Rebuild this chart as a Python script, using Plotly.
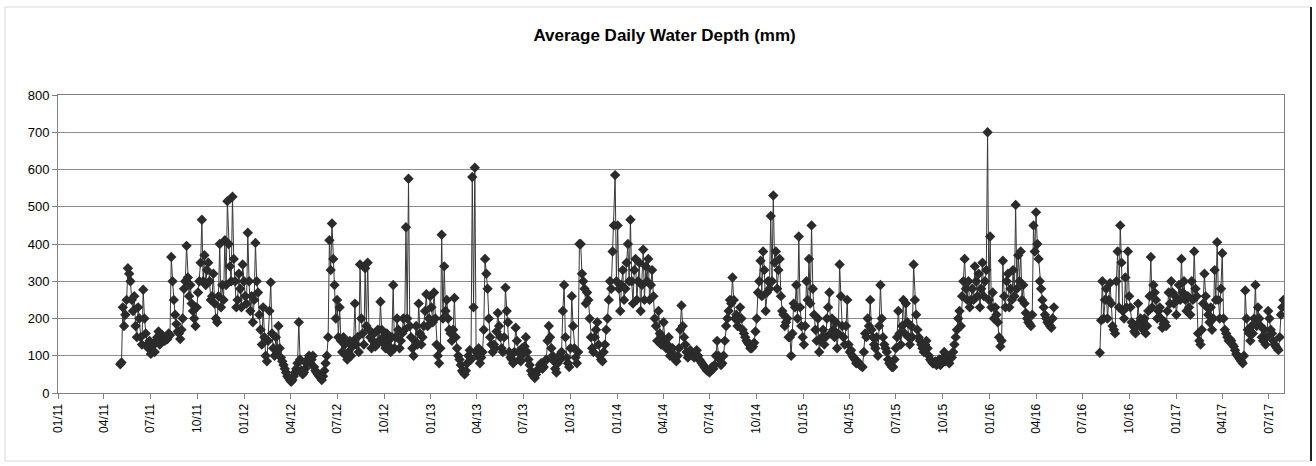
import pandas as pd
import plotly.graph_objects as go

title_text = "Average Daily Water Depth (mm)"

# readings every 5 days (main) plus readings halfway between them (mid)
start_a = "2011-05-03"
start_b = "2016-08-04"
step_days = 5

depth_2011 = [77, 230, 210, 335, 300, 220, 180, 230, 150, 277,
              160, 120, 105, 130, 140, 165, 140, 145, 150, 160,
              365, 250, 185, 160, 170, 280, 395, 260, 240, 200,
              230, 300, 465, 370, 330, 300, 260, 240, 190, 400,
              290, 410, 515, 340, 527, 300, 250, 280, 345, 260]
depth_2012 = [430, 220, 190, 403, 270, 170, 230, 100, 140, 297,
              120, 150, 180, 95, 75, 55, 40, 30, 45, 65,
              190, 60, 55, 80, 100, 90, 70, 55, 45, 35,
              60, 100, 410, 455, 290, 250, 230, 110, 130, 90,
              140, 125, 240, 150, 345, 160, 335, 350, 150, 140,
              125, 170, 245, 150, 120, 140, 110, 290, 150, 170,
              140, 200, 445, 575, 150, 100, 180, 240, 130, 180]
depth_2013 = [265, 200, 230, 270, 130, 80, 425, 340, 250, 170,
              140, 255, 120, 90, 60, 50, 80, 115, 580, 605,
              100, 80, 110, 360, 280, 150, 110, 120, 215, 150,
              110, 283, 190, 95, 80, 175, 110, 85, 105, 150,
              90, 60, 45, 50, 65, 80, 70, 90, 180, 120,
              85, 55, 100, 110, 290, 95, 70, 260, 120, 80,
              400, 320, 280, 270, 200, 120, 150, 190, 100, 85,
              130, 200, 300, 380, 585, 450, 220, 330, 280, 400]
depth_2014 = [465, 240, 360, 300, 220, 385, 340, 360, 290, 260,
              180, 220, 130, 190, 120, 150, 110, 95, 85, 120,
              235, 150, 110, 100, 105, 95, 115, 90, 80, 70,
              60, 55, 70, 75, 140, 90, 80, 140, 200, 250,
              310, 200, 180, 230, 170, 150, 135, 120, 125, 165,
              270, 355, 380, 220, 300, 475, 530, 380, 330, 260]
depth_2015 = [210, 190, 150, 100, 240, 290, 420, 180, 130, 300,
              360, 450, 210, 140, 110, 150, 130, 200, 270, 200,
              150, 120, 345, 180, 130, 250, 110, 100, 90, 85,
              75, 70, 160, 200, 250, 150, 120, 100, 290, 150,
              120, 90, 75, 70, 120, 220, 130, 250, 240, 150,
              180, 345, 210, 150, 130, 110, 140, 100, 85, 80,
              75, 90, 80, 110, 95, 80, 95, 130, 170, 220,
              260, 360, 250, 230, 280, 340, 260, 230, 350, 300]
depth_2016a = [700, 420, 270, 230, 190, 125, 355, 230, 320, 280,
               330, 505, 370, 380, 290, 215, 190, 180, 450, 485,
               360, 280, 230, 200, 185, 175, 230]

mid_2011_13 = [82, 180, 250, 320, 250, 260, 150, 200, 130, 200,
               130, 140, 125, 110, 150, 130, 155, 140, 145, 155,
               300, 210, 165, 145, 200, 300, 310, 290, 220, 180,
               270, 350, 300, 290, 350, 250, 320, 200, 260, 230,
               250, 290, 400, 300, 360, 230, 320, 230, 300, 240,
               300, 260, 250, 300, 210, 130, 150, 85, 220, 160,
               100, 110, 120, 85, 65, 45, 35, 35, 55, 80,
               90, 50, 65, 90, 80, 100, 60, 50, 40, 45,
               80, 150, 330, 360, 200, 150, 140, 150, 100, 110,
               100, 140, 130, 110, 200, 130, 180, 170, 120, 160,
               130, 140, 170, 130, 160, 125, 150, 120, 200, 120,
               160, 170, 200, 180, 120, 140, 130, 160, 150, 220,
               180, 260, 190, 200, 100, 120, 200, 220, 200, 160,
               170, 150, 100, 75, 55, 60, 100, 90, 230, 110,
               120, 95, 170, 320, 200, 130, 130, 165, 180, 120,
               150, 220, 110, 90, 110, 140, 90, 120, 125, 110,
               75, 50, 40, 60, 75, 65, 85, 140, 150, 100,
               65, 80, 90, 220, 150, 80, 120, 180, 95, 110]
mid_2013_16 = [400, 300, 240, 250, 150, 110, 170, 130, 90, 110,
               170, 250, 280, 450, 300, 280, 290, 250, 350, 300,
               300, 330, 250, 350, 290, 250, 300, 250, 330, 200,
               140, 160, 150, 140, 130, 100, 120, 90, 100, 170,
               180, 130, 95, 115, 100, 110, 100, 85, 75, 65,
               60, 60, 65, 100, 100, 75, 100, 180, 220, 240,
               250, 210, 200, 200, 160, 140, 130, 120, 135, 200,
               300, 260, 330, 270, 280, 300, 350, 280, 360, 220,
               180, 200, 150, 160, 230, 200, 230, 150, 180, 250,
               240, 280, 170, 200, 140, 170, 150, 230, 160, 170,
               190, 160, 260, 150, 180, 130, 115, 95, 80, 80,
               72, 110, 150, 180, 170, 130, 150, 180, 200, 130,
               110, 80, 70, 90, 150, 160, 180, 160, 190, 130,
               150, 250, 170, 140, 120, 130, 120, 90, 80, 85,
               80, 75, 95, 85, 85, 100, 110, 150, 200, 180,
               300, 280, 300, 250, 250, 300, 320, 280, 260, 330,
               250, 230, 200, 210, 150, 140, 260, 300, 230, 250,
               260, 280, 300, 250, 240, 200, 185, 210, 380, 400,
               300, 250, 210, 190, 180, 200]

depth_2016b = [108, 300, 250, 200, 295, 180,
               160, 380, 450, 220, 310, 380, 230, 180, 160, 240,
               200, 170, 160, 220, 365, 290, 250, 220, 200, 185,
               180, 270, 300, 240, 210, 290, 360, 300, 220, 230]
depth_2017 = [300, 380, 260, 140, 170, 320, 230, 190, 170, 330,
              405, 200, 375, 170, 150, 145, 130, 115, 100, 90,
              80, 275, 170, 140, 160, 290, 230, 180, 140, 130,
              220, 170, 140, 125, 115, 210, 250]
mid_2016_17 = [195, 200, 280, 250, 240, 170,
               300, 230, 350, 200, 230, 260, 190, 165, 180, 190,
               180, 200, 180, 260, 230, 270, 200, 230, 175, 190,
               220, 240, 270, 260, 250, 250, 270, 250, 260, 210,
               250, 280, 160, 130, 240, 260, 210, 230, 200, 250,
               250, 280, 200, 160, 140, 140, 125, 105, 95, 85,
               100, 200, 160, 180, 200, 180, 200, 150, 170, 150,
               200, 160, 130, 120, 150, 230]

y_ticks = [0, 100, 200, 300, 400, 500, 600, 700, 800]


def build(start, main, mid):
    t0 = pd.Timestamp(start)
    xs, ys = [], []
    for k, v in enumerate(main):
        xs.append(t0 + pd.Timedelta(days=step_days * k))
        ys.append(v)
        if k < len(mid):
            xs.append(t0 + pd.Timedelta(days=step_days * k + step_days / 2))
            ys.append(mid[k])
    return xs, ys


seg_a = build(start_a,
              depth_2011 + depth_2012 + depth_2013 + depth_2014 + depth_2015 + depth_2016a,
              mid_2011_13 + mid_2013_16)
seg_b = build(start_b, depth_2016b + depth_2017, mid_2016_17)

mark_col = "#2b2b2b"
fig = go.Figure()
for xs, ys in [seg_a, seg_b]:
    fig.add_trace(go.Scatter(
        x=xs, y=ys, mode="lines+markers",
        line=dict(color="#383838", width=1),
        marker=dict(symbol="diamond", size=8, color=mark_col, line=dict(width=0)),
        showlegend=False, hoverinfo="x+y"))

font_fam = "Arial, 'Liberation Sans', sans-serif"
fig.update_layout(
    width=1316, height=466,
    margin=dict(l=58, r=32, t=95, b=73),
    paper_bgcolor="white", plot_bgcolor="white",
    font=dict(family=font_fam, color="black", size=12),
    title=dict(text="<b>" + title_text + "</b>", x=0.505, xref="container",
               y=1 - 35 / 466, yref="container", xanchor="center", yanchor="middle",
               font=dict(size=17, family=font_fam, color="black")),
    xaxis=dict(type="date", range=["2011-01-01", "2017-07-31"],
               tick0="2011-01-01", dtick="M3", tickformat="%m/%y",
               tickangle=-90, ticks="outside", ticklen=5, tickcolor="#808080",
               showgrid=False, showline=True, linecolor="#808080", linewidth=1,
               mirror=True, tickfont=dict(size=12, family=font_fam), zeroline=False),
    yaxis=dict(range=[0, 800], tickvals=y_ticks, ticks="outside", ticklen=5,
               tickcolor="#808080", showgrid=True, gridcolor="#8c8c8c", gridwidth=1,
               showline=True, linecolor="#808080", linewidth=1, mirror=True,
               tickfont=dict(size=13, family=font_fam), zeroline=False),
)

# chart frame
fx0, fx1 = (5 - 58) / 1226, (1311 - 58) / 1226
fy0, fy1 = (393 - 461) / 298, (393 - 7) / 298
fig.add_shape(type="rect", xref="paper", yref="paper", x0=fx0, x1=fx1, y0=fy0, y1=fy1,
              line=dict(color="#d9d9d9", width=1), layer="below")
fig.add_shape(type="line", xref="paper", yref="paper", x0=fx1, x1=fx1, y0=fy0, y1=fy1,
              line=dict(color="#222222", width=2))

fig.write_html("out.html", config={"displayModeBar": False},
               post_script="document.body.style.margin='0';")
